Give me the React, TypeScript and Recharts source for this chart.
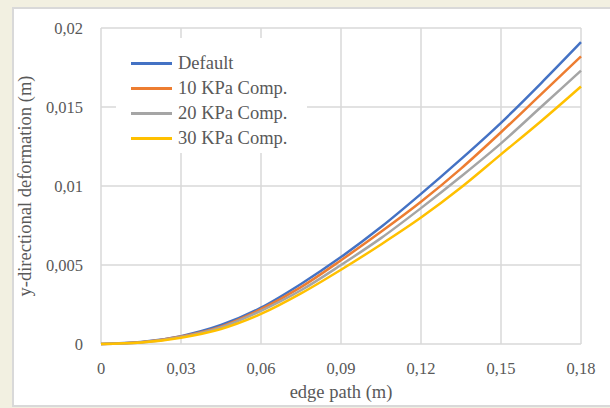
import { CartesianGrid, Legend, Line, LineChart, XAxis, YAxis } from "recharts";

const edgePath = [0, 0.015, 0.03, 0.045, 0.06, 0.075, 0.09, 0.105, 0.12, 0.135, 0.15, 0.165, 0.18];
const defaultDef = [0, 0.00012, 0.0005, 0.0012, 0.0023, 0.0038, 0.0055, 0.0074, 0.0095, 0.0117, 0.014, 0.0165, 0.0191];
const kpa10 = [0, 0.00011, 0.00047, 0.0011, 0.0022, 0.0036, 0.0053, 0.0071, 0.009, 0.0111, 0.0134, 0.0158, 0.0182];
const kpa20 = [0, 0.0001, 0.00044, 0.00105, 0.0021, 0.0034, 0.005, 0.0067, 0.0086, 0.0106, 0.0127, 0.015, 0.0173];
const kpa30 = [0, 0.00009, 0.0004, 0.00095, 0.0019, 0.0032, 0.0047, 0.0063, 0.008, 0.0099, 0.012, 0.0141, 0.0163];

const xTicks = [0, 0.03, 0.06, 0.09, 0.12, 0.15, 0.18];
const yTicks = [0, 0.005, 0.01, 0.015, 0.02];

const SERIES = [
  { key: "def", name: "Default", color: "#4472c4" },
  { key: "k10", name: "10 KPa Comp.", color: "#ed7d31" },
  { key: "k20", name: "20 KPa Comp.", color: "#a5a5a5" },
  { key: "k30", name: "30 KPa Comp.", color: "#ffc000" },
];

const data = edgePath.map((x, i) => ({
  x,
  def: defaultDef[i],
  k10: kpa10[i],
  k20: kpa20[i],
  k30: kpa30[i],
}));

const FONT = "'Liberation Serif', 'Times New Roman', serif";
const TEXT = "#595959";
const comma = (v: number) => String(v).replace(".", ",");

function LegendBox() {
  return (
    <div style={{ background: "#fff", width: 191, height: 115, paddingTop: 13, boxSizing: "border-box" }}>
      {SERIES.map((s) => (
        <div key={s.key} style={{ display: "flex", alignItems: "center", height: 25 }}>
          <span style={{ marginLeft: 15, width: 41, height: 3, background: s.color }} />
          <span style={{ marginLeft: 6, fontFamily: FONT, fontSize: 18.5, color: TEXT, whiteSpace: "nowrap" }}>{s.name}</span>
        </div>
      ))}
    </div>
  );
}

export default function App() {
  return (
    <div style={{ position: "absolute", left: 0, top: 0, width: 610, height: 408, background: "#f2f0e1", overflow: "hidden" }}>
      <div
        style={{
          position: "absolute",
          left: 12,
          top: 7,
          width: 610,
          height: 396,
          background: "#fff",
          border: "2px solid #d9d9d9",
        }}
      />
      <div style={{ position: "absolute", left: 0, top: 0 }}>
        <LineChart width={610} height={408} data={data} margin={{ top: 28, right: 29, left: 0, bottom: 0 }}>
          <CartesianGrid stroke="#d9d9d9" strokeWidth={1.5} />
          <XAxis
            dataKey="x"
            type="number"
            domain={[0, 0.18]}
            ticks={xTicks}
            tickFormatter={comma}
            axisLine={false}
            tickLine={false}
            height={64}
            tick={{ fill: TEXT, fontSize: 16.5, fontFamily: FONT, dy: 10 }}
            label={{ value: "edge path (m)", position: "insideBottom", offset: 10, fill: TEXT, fontSize: 18.5, fontFamily: FONT }}
          />
          <YAxis
            type="number"
            domain={[0, 0.02]}
            ticks={yTicks}
            tickFormatter={comma}
            axisLine={false}
            tickLine={false}
            width={101}
            tick={{ fill: TEXT, fontSize: 16.5, fontFamily: FONT, dx: -10 }}
            label={{
              value: "y-directional deformation (m)",
              angle: -90,
              position: "insideLeft",
              offset: 24,
              style: { textAnchor: "middle" },
              fill: TEXT,
              fontSize: 18.5,
              fontFamily: FONT,
            }}
          />
          <Legend
            layout="vertical"
            align="center"
            verticalAlign="middle"
            content={() => <LegendBox />}
            wrapperStyle={{ position: "absolute", left: 116, top: 38, width: 191, height: 115 }}
          />
          {SERIES.map((s) => (
            <Line
              key={s.key}
              type="monotone"
              dataKey={s.key}
              name={s.name}
              stroke={s.color}
              strokeWidth={2.5}
              dot={false}
              isAnimationActive={false}
            />
          ))}
        </LineChart>
      </div>
    </div>
  );
}
